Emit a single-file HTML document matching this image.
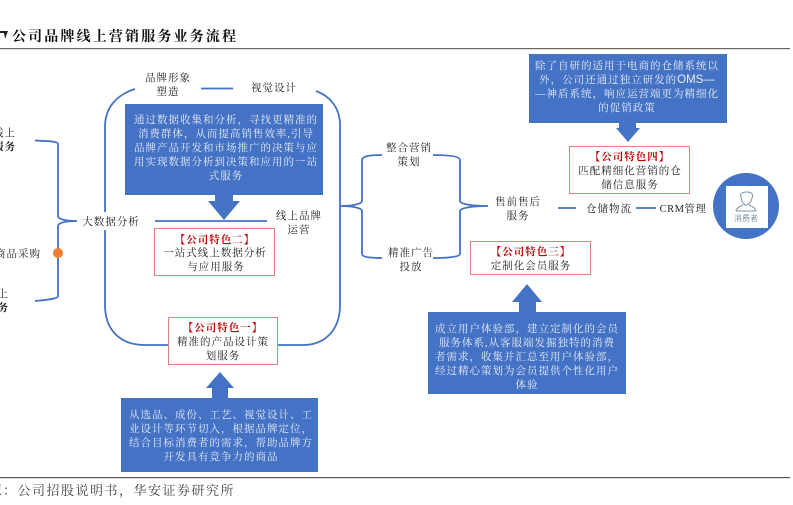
<!DOCTYPE html>
<html><head><meta charset="utf-8"><style>
html,body{margin:0;padding:0;background:#fff}
svg{display:block}
text{font-family:"Liberation Serif","Noto Serif CJK SC",serif;font-size:10.5px;letter-spacing:1px;fill:#222;text-anchor:middle}
.w text,text.w{fill:#e8edf8}
.r{fill:#c00000;font-weight:700}
.e{text-anchor:end}
</style></head><body>
<svg width="793" height="505" viewBox="0 0 793 505" xmlns="http://www.w3.org/2000/svg">
<rect width="793" height="505" fill="#fff"/>
<path d="M0 31 H8 L5 39 L4 33 H0 Z" fill="#222"/>
<text x="12" y="41" style="font-size:14px;letter-spacing:2.15px;font-weight:700;text-anchor:start;fill:#111">公司品牌线上营销服务业务流程</text>
<rect x="0" y="48" width="790" height="1.2" fill="#666"/>
<rect x="0" y="477" width="790" height="1.2" fill="#555"/>
<text x="235" y="495" class="e" style="font-size:13px;letter-spacing:1.5px;fill:#444">资料来源：公司招股说明书，华安证券研究所</text>

<g fill="none" stroke="#4472c4" stroke-width="1.8">
<path d="M135 89 C116 95 105 108 105 127 V212 M105 230 V305 C105 330 120 345 145 345 H168 M277 345 H303 C325 345 340 330 340 305 V125 C340 108 330 96 316 91"/>
<path d="M201 88.500 H233"/>
<path d="M155 221 H267"/>
<path d="M35 140.500 C45 141 58 141 58 144 V216 C58 219 65 221 77 221 C65 221 58 223 58 226 V296 C58 299 45 300 35 301"/>
<path d="M341 206 C352 206 362 204 362 201 V160 C362 156 370 155 382 155 M341 206 C352 206 362 208 362 211 V254 C362 257 370 258 382 258"/>
<path d="M433 155 C447 155 460 156 460 160 V201 C460 204 472 206 488 206 C472 206 460 208 460 211 V254 C460 257 447 258 433 258"/>
<path d="M558 208 H576 M636 208 H656"/>
</g>
<circle cx="58" cy="253" r="5" fill="#ed7d31"/>

<!-- blue boxes and arrows -->
<g fill="#4472c4">
<rect x="125" y="104" width="198" height="91"/>
<path d="M215 195 H233 V201 H240 L224 220 L208 201 H215 Z"/>
<rect x="121" y="398" width="197" height="74"/>
<path d="M220 372 L234 388 H228 V398 H212 V388 H206 Z"/>
<rect x="529" y="54" width="198" height="69"/>
<path d="M619 123 H636 V128 H640 L628 142 L616 128 H619 Z"/>
<rect x="428" y="312" width="198" height="82"/>
<path d="M527 284 L542 302 H536 V312 H519 V302 H512 Z"/>
<circle cx="746" cy="206" r="33"/>
</g>
<rect x="726" y="186" width="42" height="42" fill="#fff"/>
<g fill="none" stroke="#7d94a8" stroke-width="1">
<path d="M741 197 C739 193 743 192 747 192 C751 192 754 194 752 198 C751 202 749 205 746 205 C743 205 742 201 741 197 Z"/>
<path d="M736 211 C736 208 741 206 743 205 M756 211 C756 208 751 206 749 205 M736 211 H756"/>
</g>
<text x="746" y="221" style="font-family:'Liberation Sans','Noto Sans CJK SC',sans-serif;font-size:8px;letter-spacing:0;fill:#7d94a8">消费者</text>

<!-- red boxes -->
<g fill="#fff" stroke="#e08080" stroke-width="1">
<rect x="154.500" y="228.500" width="120" height="47"/>
<rect x="168.500" y="317.500" width="109" height="47"/>
<rect x="569.500" y="146.500" width="120" height="47"/>
<rect x="470.500" y="241.500" width="120" height="33"/>
</g>

<g>
<text x="215" y="243" class="r">【公司特色二】</text>
<text x="215" y="256">一站式线上数据分析</text>
<text x="216" y="270">与应用服务</text>
<text x="223" y="331" class="r">【公司特色一】</text>
<text x="223" y="345">精准的产品设计策</text>
<text x="223" y="359">划服务</text>
<text x="630" y="160" class="r">【公司特色四】</text>
<text x="630" y="174">匹配精细化营销的仓</text>
<text x="630" y="188">储信息服务</text>
<text x="531" y="255" class="r">【公司特色三】</text>
<text x="531" y="269">定制化会员服务</text>
</g>

<g class="w">
<text x="226" y="123">通过数据收集和分析，寻找更精准的</text>
<text x="226" y="137">消费群体，从而提高销售效率,引导</text>
<text x="226" y="151">品牌产品开发和市场推广的决策与应</text>
<text x="226" y="165">用实现数据分析到决策和应用的一站</text>
<text x="226" y="179">式服务</text>

<text x="221" y="418">从选品、成份、工艺、视觉设计、工</text>
<text x="221" y="432">业设计等环节切入，根据品牌定位，</text>
<text x="221" y="446">结合目标消费者的需求，帮助品牌方</text>
<text x="221" y="460">开发具有竞争力的商品</text>

<text x="627" y="69">除了自研的适用于电商的仓储系统以</text>
<text x="627" y="83">外，公司还通过独立研发的<tspan style="font-family:'Liberation Sans',sans-serif;font-size:11.500px;letter-spacing:0">OMS—</tspan></text>
<text x="627" y="97">—神盾系统，响应运营端更为精细化</text>
<text x="627" y="111">的促销政策</text>

<text x="527" y="332">成立用户体验部，建立定制化的会员</text>
<text x="527" y="346">服务体系,从客服端发掘独特的消费</text>
<text x="527" y="360">者需求，收集并汇总至用户体验部，</text>
<text x="527" y="374">经过精心策划为会员提供个性化用户</text>
<text x="527" y="388">体验</text>
</g>

<g>
<text x="168" y="81">品牌形象</text>
<text x="168" y="95">塑造</text>
<text x="274" y="91">视觉设计</text>
<text x="299" y="219">线上品牌</text>
<text x="299" y="233">运营</text>
<text x="111" y="225">大数据分析</text>
<text x="409" y="151">整合营销</text>
<text x="409" y="165">策划</text>
<text x="411" y="256">精准广告</text>
<text x="411" y="270">投放</text>
<text x="518" y="205">售前售后</text>
<text x="518" y="219">服务</text>
<text x="609" y="212">仓储物流</text>
<text x="683" y="212" style="letter-spacing:.5px">CRM管理</text>
<text x="16" y="136" class="e">线上</text>
<text x="16" y="150" class="e" style="font-weight:700">服务</text>
<text x="41" y="257" class="e">商品采购</text>
<text x="9" y="297" class="e">线上</text>
<text x="9" y="311" class="e" style="font-weight:700">服务</text>
</g>
</svg>
</body></html>
